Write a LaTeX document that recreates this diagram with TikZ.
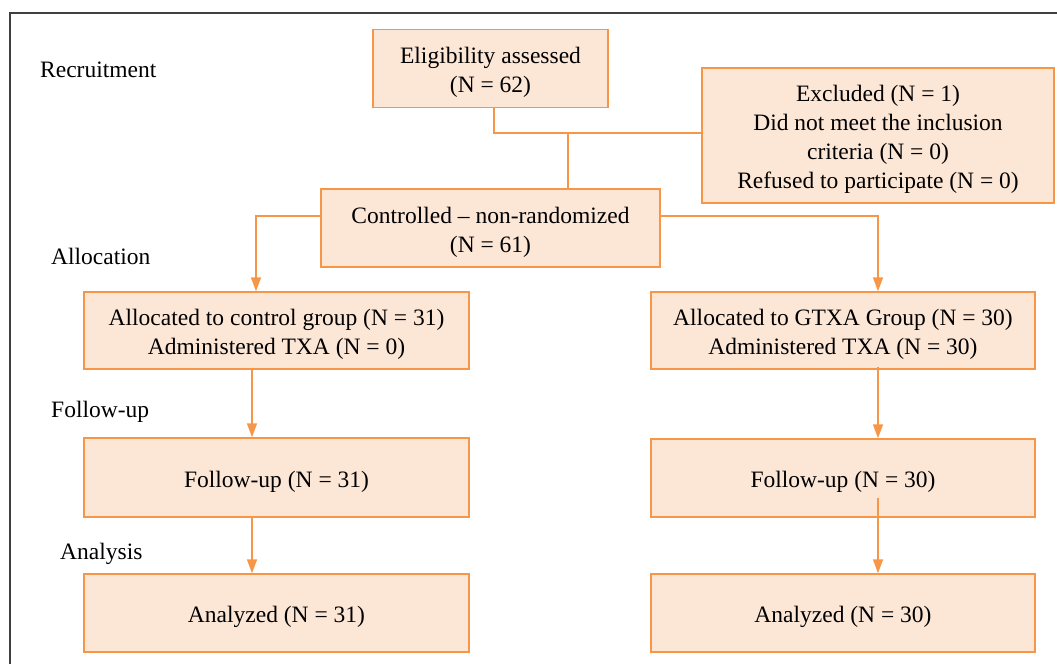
\documentclass[tikz,border=0pt]{standalone}
\usepackage{fontspec}
\setmainfont{Liberation Serif}
\usetikzlibrary{arrows.meta,calc}
\definecolor{boxfill}{RGB}{252,230,214}
\definecolor{boxline}{RGB}{247,150,70}
\definecolor{frameline}{RGB}{64,64,64}
\newcommand{\topgap}{\rule{0pt}{24pt}}
\tikzset{
  flowbox/.style={draw=boxline, fill=boxfill, line width=1.5pt, rectangle, align=center,
    inner sep=0pt, font=\fontsize{23.5}{29}\selectfont},
  stagelabel/.style={anchor=west, inner sep=0pt, font=\fontsize{23.5}{29}\selectfont},
  flowline/.style={draw=boxline, line width=1.5pt},
  flowarrow/.style={flowline, -{Triangle[width=10pt,length=14pt]}},
}
\begin{document}
\begin{tikzpicture}[x=1pt,y=-1pt]
\useasboundingbox (0,0) rectangle (1057,664);
% frame
\draw[frameline, line width=1.5pt] (10,664) -- (10,13) -- (1057,13);
% stage labels
\node[stagelabel] (lrec) at (40,70) {Recruitment};
\node[stagelabel] (lall) at (51,256) {Allocation};
\node[stagelabel] (lfol) at (51,412) {Follow-up};
\node[stagelabel] (lana) at (60,554) {Analysis};
% boxes
\node[flowbox, minimum width=235pt, minimum height=78pt] (elig) at (490.5,68.5)
  {\topgap Eligibility assessed\\(N = 62)};
\node[flowbox, minimum width=352pt, minimum height=135pt] (excl) at (878,135.5)
  {\topgap Excluded (N = 1)\\Did not meet the inclusion\\criteria (N = 0)\\Refused to participate (N = 0)};
\node[flowbox, minimum width=339pt, minimum height=78pt] (ctrl) at (490.5,228)
  {\topgap Controlled -- non-randomized\\(N = 61)};
\node[flowbox, minimum width=385pt, minimum height=77pt] (a1) at (276.5,330.5)
  {\topgap Allocated to control group (N = 31)\\Administered TXA (N = 0)};
\node[flowbox, minimum width=384pt, minimum height=77pt] (a2) at (843,330.5)
  {\topgap Allocated to GTXA Group (N = 30)\\Administered TXA (N = 30)};
\node[flowbox, minimum width=385pt, minimum height=79pt] (f1) at (276.5,477.5)
  {\topgap Follow-up (N = 31)};
\node[flowbox, minimum width=384pt, minimum height=78pt] (f2) at (843,478)
  {\topgap Follow-up (N = 30)};
\node[flowbox, minimum width=385pt, minimum height=78pt] (n1) at (276.5,613)
  {\topgap Analyzed (N = 31)};
\node[flowbox, minimum width=384pt, minimum height=78pt] (n2) at (843,613)
  {\topgap Analyzed (N = 30)};
% helper coordinates
\coordinate (jl) at (494,133);
\coordinate (jm) at (568,133);
\coordinate (colL) at (252,0);
\coordinate (colR) at (878,0);
% connectors
\draw[flowline] (elig.south -| jl) -- (jl) -- (jl -| excl.west);
\draw[flowline] (jm) -- (ctrl.north -| jm);
\draw[flowarrow] (ctrl.west |- 0,216) -| (a1.north -| 256,0);
\draw[flowarrow] (ctrl.east |- 0,216) -| (a2.north -| colR);
\draw[flowarrow] (a1.south -| colL) -- (f1.north -| colL);
\draw[flowarrow] (f1.south -| colL) -- (n1.north -| colL);
\draw[flowarrow] ($(a2.south -| colR)+(0,-3)$) -- (f2.north -| colR);
\draw[flowarrow] ($(f2.south -| colR)+(0,-20)$) -- (n2.north -| colR);
\end{tikzpicture}
\end{document}
